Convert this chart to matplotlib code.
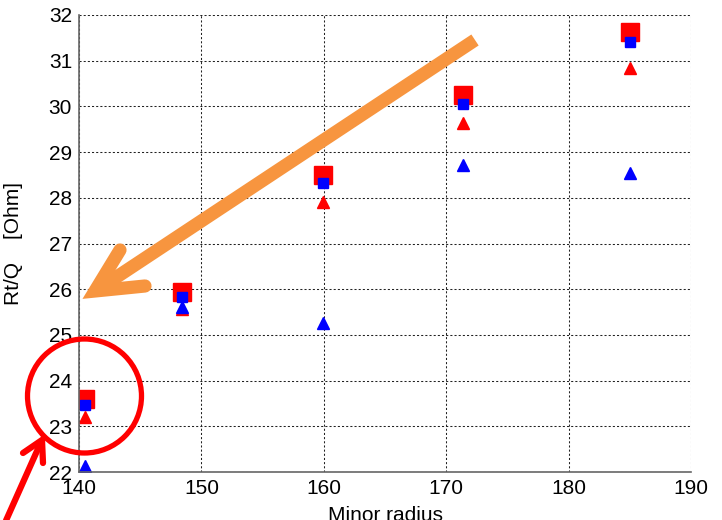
import matplotlib
matplotlib.use("Agg")
import matplotlib.pyplot as plt
from matplotlib.lines import Line2D
from matplotlib.patches import Ellipse

plt.rcParams["font.family"] = ["Liberation Sans", "DejaVu Sans"]

minor_radius = [140.5, 148.4, 159.9, 171.4, 185.0]

red_squares = [23.60, 25.94, 28.49, 30.24, 31.62]
blue_squares = [23.47, 25.82, 28.32, 30.05, 31.40]
red_triangles = [23.20, 25.56, 27.90, 29.64, 30.83]
blue_triangles = [22.13, 25.62, 25.26, 28.72, 28.55]

x_ticks = [140, 150, 160, 170, 180, 190]
y_ticks = [22, 23, 24, 25, 26, 27, 28, 29, 30, 31, 32]

W, H = 722, 520
fig = plt.figure(figsize=(W / 100, H / 100), dpi=100)
ax = fig.add_axes([79 / W, (H - 472) / H, (691 - 79) / W, (472 - 15) / H])

ax.plot(minor_radius, red_squares, "s", color="red", markersize=13, linestyle="none")
ax.plot(minor_radius, blue_squares, "s", color="blue", markersize=6.5, linestyle="none")
ax.plot(minor_radius, red_triangles, "^", color="red", markersize=8, linestyle="none")
ax.plot(minor_radius, blue_triangles, "^", color="blue", markersize=8, linestyle="none")

ax.set_xlim(140, 190)
ax.set_ylim(22, 32)
ax.set_xticks(x_ticks)
ax.set_yticks(y_ticks)
ax.tick_params(labelsize=15, length=0, pad=5)

ax.grid(True, color="#222222", linewidth=0.75, linestyle=(0, (2, 2)))
ax.set_axisbelow(True)

for side in ["top", "right"]:
    ax.spines[side].set_visible(False)
for side in ["left", "bottom"]:
    ax.spines[side].set_color("#666666")
    ax.spines[side].set_linewidth(1.2)

ax.set_xlabel("Minor radius", fontsize=15)
ax.xaxis.set_label_coords(0.5, -0.075)
ax.set_ylabel("Rt/Q    [Ohm]", fontsize=15)
ax.yaxis.set_label_coords(-0.092, 0.5)


def fig_line(points, color, lw, cap="butt"):
    xs = [p[0] / W for p in points]
    ys = [1 - p[1] / H for p in points]
    fig.add_artist(Line2D(xs, ys, color=color, linewidth=lw,
                          solid_capstyle=cap, solid_joinstyle="miter",
                          transform=fig.transFigure))


# orange arrow
orange = "#F7953F"
fig_line([(475, 40), (97, 290)], orange, 9.5)
fig_line([(120, 250), (95, 291), (145, 286)], orange, 9.5, cap="round")

# red circle and arrow
fig.add_artist(Ellipse((84.5 / W, 1 - 396 / H), 114 / W, 114 / H,
                       fill=False, edgecolor="red", linewidth=3.8,
                       transform=fig.transFigure))
fig_line([(4, 525), (41, 442)], "red", 4.5)
fig_line([(23, 453), (42, 440), (43, 463)], "red", 4.5, cap="round")

fig.savefig("out.png", dpi=100)
